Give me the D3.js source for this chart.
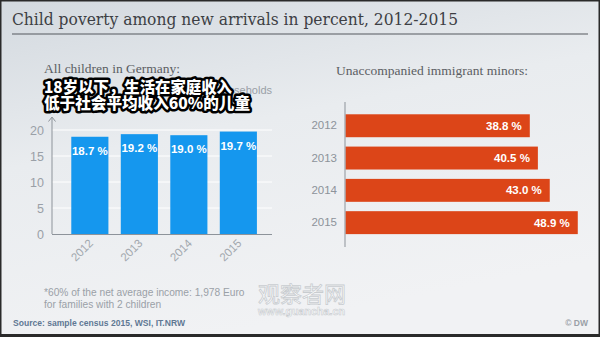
<!DOCTYPE html>
<html><head><meta charset="utf-8">
<script src="https://cdn.jsdelivr.net/npm/d3@7/dist/d3.min.js"></script>
<style>body{margin:0;padding:0;overflow:hidden;background:#fff}svg{display:block}</style>
</head><body>
<script>
const years = ["2012", "2013", "2014", "2015"];
const allChildren = [18.7, 19.2, 19.0, 19.7];
const unaccompanied = [38.8, 40.5, 43.0, 48.9];
const leftTicks = [0, 5, 10, 15, 20];

const W = 600, H = 337;
const svg = d3.select("body").append("svg").attr("width", W).attr("height", H);
const defs = svg.append("defs");
const g = defs.append("linearGradient").attr("id", "bg").attr("x1", "0").attr("y1", "0").attr("x2", "0.35").attr("y2", "1");
g.append("stop").attr("offset", "0").attr("stop-color", "#d3d9df");
g.append("stop").attr("offset", "0.45").attr("stop-color", "#e9ecef");
g.append("stop").attr("offset", "1").attr("stop-color", "#f1f2f4");
svg.append("rect").attr("width", W).attr("height", H).attr("fill", "url(#bg)");
svg.append("rect").attr("x", 0.75).attr("y", 0.75).attr("width", W - 1.5).attr("height", H - 1.5)
  .attr("fill", "none").attr("stroke", "#2a2a2a").attr("stroke-width", 1.5);
svg.append("rect").attr("x", 0).attr("y", 334).attr("width", W).attr("height", 3).attr("fill", "#2a2a2a");

// Title
svg.append("text").attr("x", 12).attr("y", 25).attr("font-family", "DejaVu Serif, Liberation Serif, serif")
  .attr("font-size", 16).attr("fill", "#3d3f44").attr("textLength", 446).attr("lengthAdjust", "spacingAndGlyphs")
  .text("Child poverty among new arrivals in percent, 2012-2015");
svg.append("line").attr("x1", 12).attr("x2", 588).attr("y1", 34).attr("y2", 34).attr("stroke", "#55585e").attr("stroke-width", 1.2);

// ---- Left chart ----
svg.append("text").attr("x", 44).attr("y", 73).attr("font-family", "Liberation Serif, serif")
  .attr("font-size", 13.5).attr("fill", "#5b5e63").text("All children in Germany:");
svg.append("text").attr("x", 272).attr("y", 94).attr("text-anchor", "end").attr("font-family", "Liberation Sans, Arial, sans-serif")
  .attr("font-size", 11).attr("fill", "#9aa0a7").text("in at-risk households");

const xL = d3.scaleBand().domain(years).range([65.1, 263.1]).paddingInner(0.25).paddingOuter(0.125);
const yL = d3.scaleLinear().domain([0, 20]).range([234, 130]);

const left = svg.append("g");
left.selectAll("line.grid").data(leftTicks.slice(1)).join("line")
  .attr("x1", 52).attr("x2", 272).attr("y1", d => yL(d)).attr("y2", d => yL(d))
  .attr("stroke", "#ffffff").attr("stroke-width", 1);
const yAxisL = d3.axisLeft(yL).tickValues(leftTicks).tickSize(0).tickPadding(8);
const ya = left.append("g").attr("transform", "translate(52,0)").call(yAxisL);
ya.select(".domain").remove();
ya.selectAll("text").attr("font-family", "Liberation Sans, Arial, sans-serif").attr("font-size", 12.5).attr("fill", "#9aa0a7");
left.append("line").attr("x1", 52).attr("x2", 52).attr("y1", 118).attr("y2", 234).attr("stroke", "#8d939a").attr("stroke-width", 1);
left.append("path").attr("d", "M48.5,121.5 L52,117 L55.5,121.5").attr("fill", "none").attr("stroke", "#8d939a").attr("stroke-width", 1);

left.selectAll("rect.bar").data(allChildren).join("rect")
  .attr("x", (d, i) => xL(years[i])).attr("width", xL.bandwidth())
  .attr("y", d => yL(d)).attr("height", d => yL(0) - yL(d)).attr("fill", "#1597ee");
left.selectAll("text.val").data(allChildren).join("text")
  .attr("x", (d, i) => xL(years[i]) + xL.bandwidth() / 2).attr("y", d => yL(d) + 18)
  .attr("text-anchor", "middle").attr("font-family", "Liberation Sans, Arial, sans-serif").attr("font-weight", "bold")
  .attr("font-size", 11.5).attr("fill", "#ffffff").text(d => d.toFixed(1) + " %");

const xAxisL = d3.axisBottom(xL).tickSize(0).tickPadding(0);
const xa = left.append("g").attr("transform", "translate(0,234)").call(xAxisL);
xa.select(".domain").remove();
left.append("line").attr("x1", 52).attr("x2", 272).attr("y1", 234.5).attr("y2", 234.5).attr("stroke", "#8d939a");
xa.selectAll("text").attr("font-family", "Liberation Sans, Arial, sans-serif").attr("font-size", 11.5).attr("fill", "#a2a8ae")
  .attr("text-anchor", "end").attr("dy", 0).attr("y", 0)
  .attr("transform", "translate(4,10) rotate(-45)");

// Chinese overlay
const zh = [{t: "18岁以下，生活在家庭收入", y: 93, w: 188}, {t: "低于社会平均收入60%的儿童", y: 109, w: 206}];
[0, 1].forEach(pass => {
  svg.selectAll(null).data(zh).join("text")
    .attr("x", 44).attr("y", d => d.y)
    .attr("font-family", "Noto Sans CJK SC, sans-serif").attr("font-weight", 900).attr("font-size", 15.5)
    .attr("textLength", d => d.w).attr("lengthAdjust", "spacingAndGlyphs")
    .attr("fill", pass ? "#ffffff" : "#000000").attr("stroke", pass ? "none" : "#000000")
    .attr("stroke-width", pass ? 0 : 5).attr("stroke-linejoin", "round").text(d => d.t);
});

// ---- Right chart ----
svg.append("text").attr("x", 432).attr("y", 75).attr("text-anchor", "middle").attr("font-family", "Liberation Serif, serif")
  .attr("font-size", 13.5).attr("fill", "#5b5e63").text("Unaccompanied immigrant minors:");

const yR = d3.scaleBand().domain(years).range([109.6, 238.8]).paddingInner(0.29).paddingOuter(0.145);
const xR = d3.scaleLinear().domain([0, 50]).range([345.5, 583]);
const right = svg.append("g");
right.selectAll("rect").data(unaccompanied).join("rect")
  .attr("x", xR(0)).attr("y", (d, i) => yR(years[i])).attr("height", yR.bandwidth())
  .attr("width", d => xR(d) - xR(0)).attr("fill", "#dc4518");
right.selectAll("text.val").data(unaccompanied).join("text")
  .attr("x", d => xR(d) - 8).attr("y", (d, i) => yR(years[i]) + yR.bandwidth() / 2 + 4)
  .attr("text-anchor", "end").attr("font-family", "Liberation Sans, Arial, sans-serif").attr("font-weight", "bold")
  .attr("font-size", 11.5).attr("fill", "#ffffff").text(d => d.toFixed(1) + " %");
const yAxisR = d3.axisLeft(yR).tickSize(0).tickPadding(8);
const yra = right.append("g").attr("transform", "translate(345,0)").call(yAxisR);
yra.select(".domain").remove();
yra.selectAll("text").attr("font-family", "Liberation Sans, Arial, sans-serif").attr("font-size", 11.5).attr("fill", "#8d939a");
right.append("line").attr("x1", 345).attr("x2", 345).attr("y1", 102).attr("y2", 247).attr("stroke", "#8d939a");

// Footnote and source
const fn = svg.append("g").attr("font-family", "Liberation Sans, Arial, sans-serif").attr("font-size", 10.2).attr("fill", "#9aa0a7");
fn.append("text").attr("x", 44).attr("y", 296).text("*60% of the net average income: 1,978 Euro");
fn.append("text").attr("x", 44).attr("y", 308).text("for families with 2 children");
svg.append("text").attr("x", 13).attr("y", 325.5).attr("font-family", "Liberation Sans, Arial, sans-serif").attr("font-weight", "bold")
  .attr("font-size", 8.5).attr("textLength", 172).attr("lengthAdjust", "spacingAndGlyphs")
  .attr("fill", "#5f7893").text("Source: sample census 2015, WSI, IT.NRW");
svg.append("text").attr("x", 588).attr("y", 325.5).attr("text-anchor", "end").attr("font-family", "Liberation Sans, Arial, sans-serif").attr("font-weight", "bold")
  .attr("font-size", 8.5).attr("fill", "#9aa0a7").text("© DW");

// Watermark
svg.append("text").attr("x", 258).attr("y", 302).attr("font-family", "Noto Sans CJK SC, sans-serif").attr("font-size", 22)
  .attr("textLength", 88).attr("lengthAdjust", "spacingAndGlyphs")
  .attr("fill", "#ffffff").attr("stroke", "#c4c8cc").attr("stroke-width", 0.8).attr("opacity", 0.9).text("观察者网");
svg.append("text").attr("x", 258).attr("y", 315).attr("font-family", "Liberation Sans, Arial, sans-serif").attr("font-weight", "bold").attr("font-size", 11)
  .attr("textLength", 87).attr("lengthAdjust", "spacingAndGlyphs")
  .attr("fill", "#ffffff").attr("stroke", "#c4c8cc").attr("stroke-width", 0.6).attr("opacity", 0.9).text("www.guancha.cn");
</script>
</body></html>
